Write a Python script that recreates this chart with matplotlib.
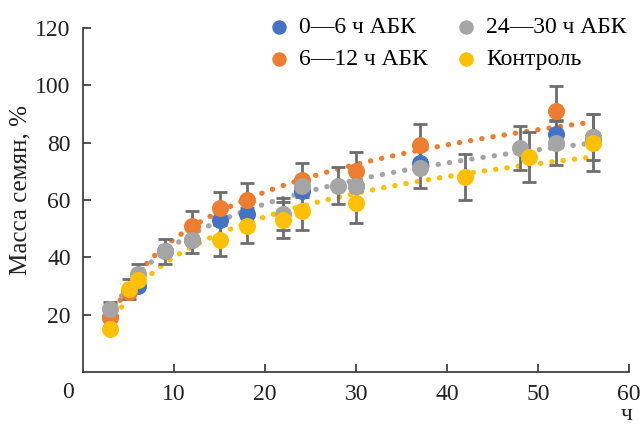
"""
plot.py — масса семян после обработки АБК

Scatter with error bars + logarithmic dotted trendlines, saved to out.png.
"""

import matplotlib.pyplot as plt
import numpy as np

OUTPUT_PATH = "out.png"

# ── data ─────────────────────────────────────────────────────────────────────
# 0—6 ч АБК
X_06 = [3, 6, 9, 12, 15, 18, 24, 30, 37, 52, 56]
Y_06 = [19, 30, 42, 46, 53, 55, 63, 65, 73, 83, 81]
E_06 = [0, 0, 0, 0, 0, 0, 0, 0, 0, 4.5, 0]

# 6—12 ч АБК
X_612 = [3, 5, 12, 15, 18, 24, 30, 37, 52, 56]
Y_612 = [19, 28, 51, 57, 60, 67, 70, 79, 91, 82]
E_612 = [0, 0, 5, 5.7, 6, 6, 6.7, 7.5, 8.8, 0]

# 24—30 ч АБК
X_2430 = [3, 6, 9, 12, 22, 24, 28, 30, 37, 48, 52, 56]
Y_2430 = [22, 34, 42, 46, 55, 65, 65, 65, 71, 78, 80, 82]
E_2430 = [2.5, 3.6, 4.2, 4.5, 5.5, 0, 6.5, 0, 7, 7.7, 8, 8]

# Контроль
X_CTRL = [3, 5, 6, 15, 18, 22, 24, 30, 42, 49, 56]
Y_CTRL = [15, 29, 32, 46, 51, 53, 56, 59, 68, 75, 80]
E_CTRL = [0, 3.5, 0, 5.6, 6, 6.3, 6.5, 7, 8, 8.8, 10]

X_TICKS = [10, 20, 30, 40, 50, 60]
Y_TICKS = [20, 40, 60, 80, 100, 120]

# Excel palette
COLORS = {
    "b": "#4472C4",
    "o": "#ED7D31",
    "g": "#A5A5A5",
    "y": "#FFC000",
}
ERR_COLOR = "#6e6e6e"
FONT = ["Liberation Serif", "DejaVu Serif"]
FS = 17


def log_trend(xs, ys, color, ax):
    # Excel-style logarithmic trendline over the data range
    xs = np.asarray(xs, dtype=float)
    a, b = np.polyfit(np.log(xs), ys, 1)
    xx = np.linspace(xs.min(), xs.max(), 200)
    ax.plot(
        xx,
        a * np.log(xx) + b,
        color=color,
        linewidth=3.8,
        linestyle=(0, (0.05, 2.1)),
        dash_capstyle="round",
        zorder=1,
    )


def make_chart():
    plt.rcParams["font.family"] = FONT
    fig = plt.figure(figsize=(6.4, 4.28), dpi=100)
    ax = fig.add_axes([0.13, 0.131, 0.853, 0.804])

    series = [
        (X_06, Y_06, E_06, "b", "0—6 ч АБК"),
        (X_612, Y_612, E_612, "o", "6—12 ч АБК"),
        (X_2430, Y_2430, E_2430, "g", "24—30 ч АБК"),
        (X_CTRL, Y_CTRL, E_CTRL, "y", "Контроль"),
    ]

    # trendlines (blue one has none)
    for xs, ys, _, key, _ in series[1:]:
        log_trend(xs, ys, COLORS[key], ax)

    # error bars
    for xs, ys, es, key, _ in series:
        xs_e = [x for x, e in zip(xs, es) if e > 0]
        ys_e = [y for y, e in zip(ys, es) if e > 0]
        es_e = [e for e in es if e > 0]
        ax.errorbar(
            xs_e, ys_e, yerr=es_e, fmt="none", ecolor=ERR_COLOR,
            elinewidth=2, capsize=5, capthick=2, zorder=2,
        )

    # markers
    for i, (xs, ys, _, key, label) in enumerate(series):
        ax.scatter(xs, ys, s=150, color=COLORS[key], label=label,
                   linewidths=0, zorder=3 + i)

    ax.set_xlim(0, 60)
    ax.set_ylim(0, 120)
    ax.set_xticks(X_TICKS)
    ax.set_yticks(Y_TICKS)
    ax.tick_params(direction="in", length=6, width=1.2, labelsize=FS,
                   color="#333333", labelcolor="#222222", pad=9)
    for side in ["top", "right"]:
        ax.spines[side].set_visible(False)
    for side in ["left", "bottom"]:
        ax.spines[side].set_linewidth(1.2)
        ax.spines[side].set_color("#333333")

    # shared origin label and axis titles
    fig.text(68 / 640, 1 - 392 / 428, "0", ha="center", va="center",
             fontsize=FS, color="#222222")
    fig.text(627 / 640, 1 - 415 / 428, "ч", ha="center", va="center",
             fontsize=FS, color="#222222")
    fig.text(20 / 640, 1 - 190 / 428, "Масса семян, %", rotation=90,
             ha="center", va="center", fontsize=18, color="#222222")

    ax.legend(
        ncol=2, loc="upper right", bbox_to_anchor=(1.034, 1.095),
        frameon=False, fontsize=FS, handletextpad=0.1,
        columnspacing=0.85, labelspacing=0.45, handlelength=1.5,
        markerscale=0.85,
    )

    fig.savefig(OUTPUT_PATH, dpi=100)


if __name__ == "__main__":
    make_chart()
